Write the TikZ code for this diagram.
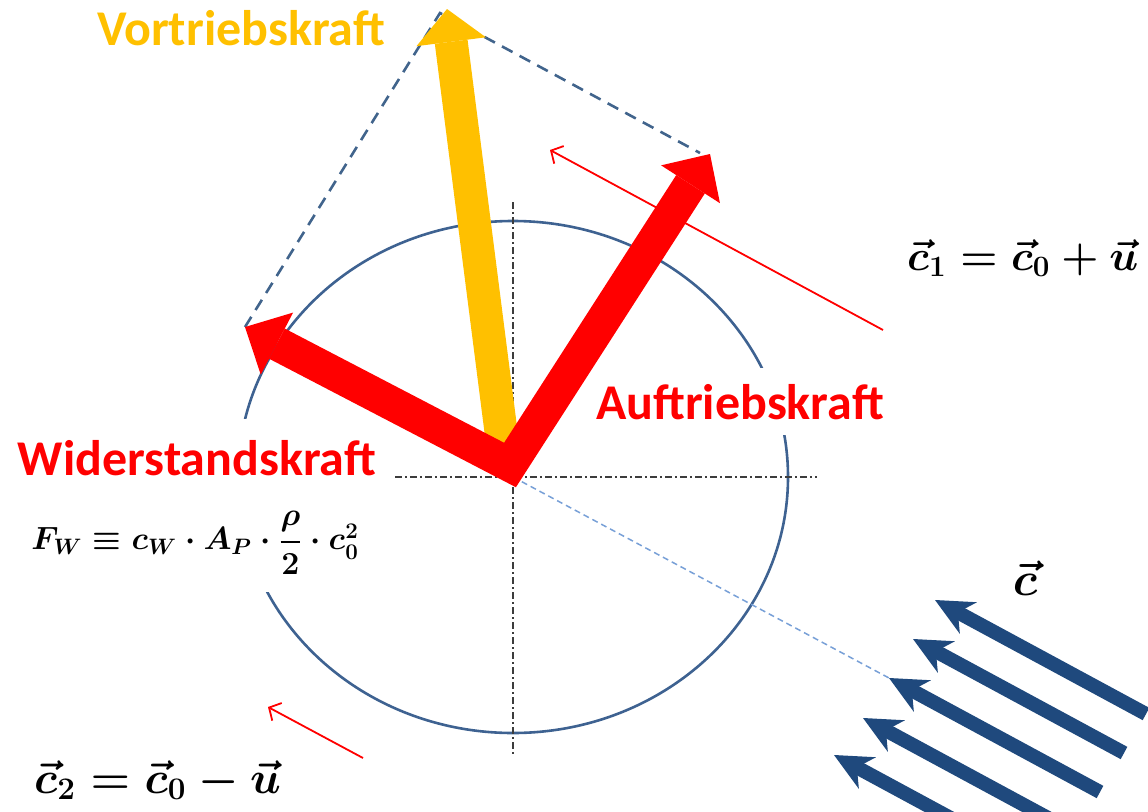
\documentclass[tikz,border=0pt]{standalone}
\usepackage{amsmath}
\usepackage{graphicx}
\usepackage{fontspec}
\setmainfont{Carlito}
\usetikzlibrary{arrows.meta,calc}
\definecolor{kred}{RGB}{255,0,0}
\definecolor{kyellow}{RGB}{255,192,0}
\definecolor{kcircle}{RGB}{62,98,145}
\definecolor{kdash}{RGB}{65,100,140}
\definecolor{kblue}{RGB}{31,73,125}
\definecolor{klight}{RGB}{120,160,215}
\definecolor{kaxis}{RGB}{60,60,60}
\newcommand{\kmath}[2]{\scalebox{#1}{\huge\boldmath$#2$}}
\begin{document}
\begin{tikzpicture}[x=1pt,y=-1pt,
  lbl/.style={font=\fontsize{50}{60}\selectfont\bfseries, fill=white, inner xsep=8pt, inner ysep=16pt, anchor=base},
  formula/.style={inner sep=4pt},
  axisline/.style={kaxis, line width=1.4pt, dash pattern=on 7pt off 3pt on 2pt off 3pt},
  bigred/.style={kred, line width=34pt, line join=miter,
     {Triangle[length=36pt,width=70pt,line width=0pt]}-{Triangle[length=36pt,width=70pt,line width=0pt]}},
  bigyellow/.style={kyellow, line width=33pt, -{Triangle[length=33pt,width=70pt,line width=0pt]}},
  parallel/.style={kdash, line width=2.6pt, dash pattern=on 12pt off 8pt},
  thinred/.style={kred, line width=1.8pt, -{Straight Barb[length=9pt,width=20pt]}},
  flow/.style={kblue, line width=14pt, -{Stealth[length=38pt,width=36pt,inset=12pt,line width=0pt]}},
  guide/.style={klight, line width=1.5pt, dash pattern=on 6pt off 4pt}]
\useasboundingbox (0,0) rectangle (1148,811);
\clip (0,0) rectangle (1148,811);
% coordinates
\coordinate (O) at (510,465);
\coordinate (C) at (513,477);
\coordinate (tipW) at (245,327);
\coordinate (tipA) at (710,154);
\coordinate (Ys) at (504,455);
\coordinate (tipV) at (447,9);
\coordinate (dW) at (245,327);
\coordinate (dV) at (440,13);
\coordinate (dA) at (700,153);
\coordinate (vt) at (513,202);
\coordinate (vb) at (513,756);
\coordinate (hl) at (395,477);
\coordinate (hr) at (817,477);
\coordinate (r1s) at (883,330);
\coordinate (r1e) at (550,150);
\coordinate (r2s) at (363,758);
\coordinate (r2e) at (268,707);
\coordinate (b1) at (935,600);
\coordinate (b2) at (913,639);
\coordinate (b3) at (889,678);
\coordinate (b4) at (863,718);
\coordinate (b5) at (834,755);
\coordinate (t1) at (1146,714);
\coordinate (t2) at (1124,753);
\coordinate (t3) at (1100,792);
\coordinate (t4) at (1074,832);
\coordinate (t5) at (1045,869);
% circle
\draw[kcircle, line width=2.6pt] (C) ellipse [x radius=275, y radius=256];
% axes
\draw[axisline] (vt) -- (vb);
\draw[axisline] (hl) -- (hr);
% guide line
\draw[guide] (C) -- (b3);
% labels
\node[lbl, text=kyellow] (lV) at (241,45) {Vortriebskraft};
\node[lbl, text=kred] (lA) at (740,419) {Auftriebskraft};
\node[lbl, text=kred, inner ysep=21pt] (lW) at (197,475) {Widerstandskraft};
\node[formula, fill=white, minimum width=330pt, minimum height=98pt] (fW) at (195,543) {\kmath{1.55}{F_W \equiv c_W \cdot A_P \cdot \dfrac{\rho}{2}\cdot c_0^{2}}};
\node[formula, anchor=base west] (f1) at (903,270) {\kmath{2.05}{\vec{c}_1 = \vec{c}_0 + \vec{u}}};
\node[formula, anchor=base west] (f2) at (30,793) {\kmath{2.18}{\vec{c}_2 = \vec{c}_0 - \vec{u}}};
\node[formula, anchor=base] (fc) at (1025,595) {\kmath{2.3}{\vec{c}}};
% parallelogram
\draw[parallel] (dW) -- (dV) -- (dA);
% thin red arrows
\draw[thinred] (r1s) -- (r1e);
\draw[thinred] (r2s) -- (r2e);
% force arrows
\draw[bigyellow] (Ys) -- (tipV);
\draw[bigred] (tipW) -- (O) -- (tipA);
% flow arrows
\draw[flow] (t1) -- (b1);
\draw[flow] (t2) -- (b2);
\draw[flow] (t3) -- (b3);
\draw[flow] (t4) -- (b4);
\draw[flow] (t5) -- (b5);
\end{tikzpicture}
\end{document}
